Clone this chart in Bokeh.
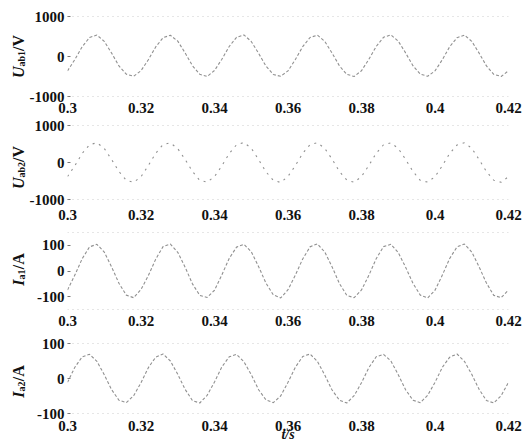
import numpy as np
from bokeh.plotting import figure
from bokeh.layouts import column, row
from bokeh.models import Span, Label, FixedTicker
from bokeh.embed import file_html
from bokeh.resources import INLINE

# time grid (s)
t = list(np.round(0.3 + 0.002 * np.arange(61), 3))

u_ab1 = [-360, -75, 245, 475, 535, 380, 85, -235, -440, -495,
         -355, -80, 240, 470, 530, 385, 90, -230, -445, -500,
         -350, -70, 250, 480, 540, 375, 80, -240, -450, -495,
         -360, -75, 245, 475, 535, 380, 85, -235, -445, -500,
         -355, -70, 250, 480, 540, 385, 90, -230, -440, -495,
         -360, -80, 245, 470, 535, 380, 85, -235, -445, -500,
         -355]
u_ab2 = [-380, -85, 245, 480, 535, 380, 80, -245, -480, -535,
         -385, -80, 250, 485, 530, 375, 85, -240, -485, -530,
         -380, -90, 240, 480, 540, 385, 80, -250, -480, -540,
         -375, -85, 245, 485, 535, 380, 90, -245, -475, -535,
         -380, -80, 250, 480, 530, 380, 85, -240, -485, -530,
         -385, -85, 245, 475, 535, 385, 80, -245, -480, -535,
         -380]
i_a1 = [-74, -16, 48, 94, 104, 74, 16, -48, -94, -104,
        -72, -18, 46, 95, 105, 73, 15, -50, -95, -103,
        -75, -15, 49, 93, 104, 75, 17, -47, -93, -105,
        -73, -16, 47, 94, 106, 74, 16, -49, -95, -104,
        -74, -17, 48, 95, 104, 72, 15, -48, -94, -105,
        -75, -16, 49, 94, 105, 74, 16, -47, -95, -104,
        -74]
i_a2 = [-11, 32, 62, 69, 49, 11, -32, -62, -69, -49,
        -12, 31, 61, 70, 50, 12, -31, -63, -70, -48,
        -10, 33, 62, 69, 48, 11, -32, -61, -69, -50,
        -11, 32, 63, 70, 49, 10, -33, -62, -70, -49,
        -12, 31, 62, 69, 50, 11, -32, -62, -69, -48,
        -11, 32, 61, 70, 49, 12, -31, -63, -70, -49,
        -11]

x_ticks = [0.3, 0.32, 0.34, 0.36, 0.38, 0.4, 0.42]
x_tick_labels = ["0.3", "0.32", "0.34", "0.36", "0.38", "0.4", "0.42"]
v_ticks = [-1000, 0, 1000]
v_tick_labels = ["-1000", "0", "1000"]
a_ticks = [-100, 0, 100]
a_tick_labels = ["-100", "0", "100"]

FONT = "Liberation Serif"
LAB_W = 26


def bare_fig(width, height, top=0, bottom=0):
    f = figure(width=width, height=height, x_range=(0, 1), y_range=(0, 1),
               output_backend="svg", toolbar_location=None,
               x_axis_location=None, y_axis_location=None,
               min_border_left=0, min_border_right=0,
               min_border_top=top, min_border_bottom=bottom)
    f.outline_line_color = None
    f.grid.visible = False
    return f


def title_fig(height, top, bottom, parts, center):
    f = bare_fig(LAB_W, height, top, bottom)
    total = sum(p[4] for p in parts)
    pos = center - total / 2
    for text, style, size, xc, w in parts:
        f.add_layout(Label(x=xc, y=pos + w / 2, x_units="screen", y_units="screen",
                           text=text, angle=np.pi / 2, text_font=FONT,
                           text_font_size=size, text_font_style=style,
                           text_color="#111111", text_align="center",
                           text_baseline="middle"))
        pos += w
    return f


def panel(y, ylo, yhi, yticks, ylabels, height, top, bottom, standoff, dash):
    p = figure(width=525 - LAB_W, height=height, x_range=(0.3, 0.42), y_range=(ylo, yhi),
               output_backend="svg", toolbar_location=None,
               min_border_left=67 - LAB_W, min_border_right=17,
               min_border_top=top, min_border_bottom=bottom)
    p.outline_line_color = None
    p.grid.visible = False
    p.line(t, y, line_color="#909090", line_width=1.1, line_dash=dash)
    for loc in (ylo, yhi):
        p.add_layout(Span(location=loc, dimension="width", line_color="#9a9a9a",
                          line_width=1, line_dash="1 4"))
    xa = p.xaxis[0]
    xa.ticker = FixedTicker(ticks=x_ticks)
    xa.major_label_overrides = dict(zip(x_ticks, x_tick_labels))
    xa.axis_line_color = None
    xa.major_tick_line_color = None
    xa.minor_tick_line_color = None
    xa.major_label_standoff = standoff
    ya = p.yaxis[0]
    ya.ticker = FixedTicker(ticks=yticks)
    ya.major_label_overrides = dict(zip(yticks, ylabels))
    ya.axis_line_color = None
    ya.minor_tick_line_color = None
    ya.major_tick_in = 3
    ya.major_tick_out = 0
    ya.major_tick_line_color = "#777777"
    ya.major_label_standoff = 3
    for ax in (xa, ya):
        ax.major_label_text_font = FONT
        ax.major_label_text_font_size = "15px"
        ax.major_label_text_font_style = "bold"
        ax.major_label_text_color = "#111111"
    return p


p1 = panel(u_ab1, -1000, 1000, v_ticks, v_tick_labels, 115, 16, 18, 0, "3 2")
p2 = panel(u_ab2, -1000, 1000, v_ticks, v_tick_labels, 107, 10, 23, 4, "2 5")
p3 = panel(i_a1, -150, 150, a_ticks, a_tick_labels, 109, 10, 22, 0, "3 2")
p4 = panel(i_a2, -100, 100, a_ticks, a_tick_labels, 113, 12, 31, 1, "3 2")
xa4 = p4.xaxis[0]
xa4.axis_label = "t/s"
xa4.axis_label_text_font = FONT
xa4.axis_label_text_font_size = "14px"
xa4.axis_label_text_font_style = "bold italic"
xa4.axis_label_text_color = "#111111"
xa4.axis_label_standoff = -7

t1 = title_fig(115, 16, 18, [("U", "bold italic", "16px", 18, 11.5),
                             ("ab1", "bold", "10px", 20.5, 15.5),
                             ("/V", "bold", "16px", 18, 16)], 40)
t2 = title_fig(107, 10, 23, [("U", "bold italic", "16px", 18, 11.5),
                             ("ab2", "bold", "10px", 20.5, 15.5),
                             ("/V", "bold", "16px", 18, 16)], 32)
t3 = title_fig(109, 10, 22, [("I", "bold italic", "16px", 18, 6.2),
                             ("a1", "bold", "10px", 20.5, 10.5),
                             ("/A", "bold", "16px", 18, 16)], 40)
t4 = title_fig(113, 12, 31, [("I", "bold italic", "16px", 18, 6.2),
                             ("a2", "bold", "10px", 20.5, 10.5),
                             ("/A", "bold", "16px", 18, 16)], 32)

layout = column(row(t1, p1, spacing=0), row(t2, p2, spacing=0),
                row(t3, p3, spacing=0), row(t4, p4, spacing=0), spacing=0)
open("out.html", "w").write(file_html(layout, INLINE))
